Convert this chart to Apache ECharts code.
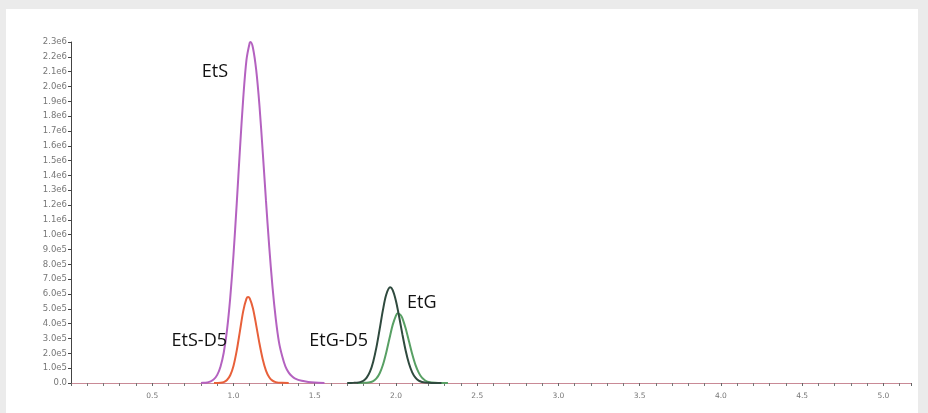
<!DOCTYPE html>
<html>
<head>
<meta charset="utf-8">
<script src="https://cdn.jsdelivr.net/npm/echarts@6/dist/echarts.min.js"></script>
<style>
html,body{margin:0;padding:0;background:#ebebeb;}
#chart{width:928px;height:413px;}
</style>
</head>
<body>
<div id="chart"></div>
<script>
// Retention time (min) and intensity (counts)
const etsX = [0.80,0.82,0.84,0.86,0.88,0.90,0.92,0.94,0.96,0.98,1.00,1.02,1.04,1.06,1.08,1.10,1.105,1.12,1.14,1.16,1.18,1.20,1.22,1.24,1.26,1.28,1.30,1.32,1.34,1.36,1.38,1.42,1.46,1.50,1.56];
const etsY = [0,0.02e5,0.04e5,0.11e5,0.26e5,0.55e5,1.1e5,2.04e5,3.55e5,5.74e5,8.63e5,12.1e5,15.8e5,19.2e5,21.8e5,22.95e5,23.0e5,22.6e5,21.1e5,18.7e5,15.6e5,12.3e5,9.2e5,6.5e5,4.36e5,2.76e5,1.8e5,1.1e5,0.7e5,0.45e5,0.3e5,0.15e5,0.07e5,0.03e5,0];

const etsD5X = [0.88,0.92,0.94,0.96,0.98,1.00,1.02,1.04,1.06,1.08,1.09,1.10,1.12,1.14,1.16,1.18,1.20,1.22,1.24,1.26,1.30,1.34];
const etsD5Y = [0,0.02e5,0.06e5,0.2e5,0.52e5,1.15e5,2.18e5,3.52e5,4.85e5,5.69e5,5.8e5,5.71e5,5.03e5,3.89e5,2.66e5,1.6e5,0.84e5,0.39e5,0.16e5,0.06e5,0.01e5,0];

const etgD5X = [1.70,1.74,1.76,1.78,1.80,1.82,1.84,1.86,1.88,1.90,1.92,1.94,1.964,1.98,2.00,2.02,2.04,2.06,2.08,2.10,2.12,2.14,2.16,2.18,2.22,2.28];
const etgD5Y = [0,0.01e5,0.02e5,0.06e5,0.15e5,0.36e5,0.76e5,1.44e5,2.42e5,3.65e5,4.93e5,5.95e5,6.45e5,6.26e5,5.53e5,4.45e5,3.26e5,2.17e5,1.31e5,0.72e5,0.36e5,0.16e5,0.07e5,0.03e5,0,0];

const etgX = [1.76,1.80,1.82,1.84,1.86,1.88,1.90,1.92,1.94,1.96,1.98,2.00,2.01,2.02,2.03,2.04,2.06,2.08,2.10,2.12,2.14,2.16,2.18,2.20,2.22,2.26,2.32];
const etgY = [0,0.01e5,0.02e5,0.05e5,0.13e5,0.31e5,0.66e5,1.23e5,2.04e5,3.0e5,3.92e5,4.55e5,4.7e5,4.65e5,4.57e5,4.36e5,3.67e5,2.81e5,1.95e5,1.22e5,0.7e5,0.36e5,0.17e5,0.07e5,0.03e5,0,0];

const yTickValues = [0,1e5,2e5,3e5,4e5,5e5,6e5,7e5,8e5,9e5,1.0e6,1.1e6,1.2e6,1.3e6,1.4e6,1.5e6,1.6e6,1.7e6,1.8e6,1.9e6,2.0e6,2.1e6,2.2e6,2.3e6];
const yTickLabels = ["0.0","1.0e5","2.0e5","3.0e5","4.0e5","5.0e5","6.0e5","7.0e5","8.0e5","9.0e5","1.0e6","1.1e6","1.2e6","1.3e6","1.4e6","1.5e6","1.6e6","1.7e6","1.8e6","1.9e6","2.0e6","2.1e6","2.2e6","2.3e6"];
const xTickLabels = ["0.5","1.0","1.5","2.0","2.5","3.0","3.5","4.0","4.5","5.0"];

const seriesNames = ["EtS","EtS-D5","EtG-D5","EtG"];
const seriesColors = ["#b462c0","#e8603a","#2f4a3e","#58a064"];

function pairs(xs, ys){ return xs.map((x,i)=>[x, ys[i]]); }

const chart = echarts.init(document.getElementById('chart'), null, {renderer:'canvas'});
const labelFont = {fontFamily:'Open Sans', fontSize:18, fill:'#111'};

chart.setOption({
  backgroundColor:'#ebebeb',
  animation:false,
  graphic:[
    {type:'rect', z:-10, shape:{x:6, y:9, width:912, height:404}, style:{fill:'#ffffff'}},
    {type:'text', z:50, x:228, y:72, style:Object.assign({text:'EtS', align:'right', verticalAlign:'middle'}, labelFont)},
    {type:'text', z:50, x:227, y:341, style:Object.assign({text:'EtS-D5', align:'right', verticalAlign:'middle'}, labelFont)},
    {type:'text', z:50, x:368, y:341, style:Object.assign({text:'EtG-D5', align:'right', verticalAlign:'middle'}, labelFont)},
    {type:'text', z:50, x:407, y:303, style:Object.assign({text:'EtG', align:'left', verticalAlign:'middle'}, labelFont)}
  ],
  grid:{left:71, right:17, top:42, bottom:30, containLabel:false},
  xAxis:{
    type:'value', min:0, max:5.17, interval:0.5,
    axisLine:{show:true, onZero:false, lineStyle:{color:'#c98a96', width:1}},
    axisTick:{show:true, length:3, lineStyle:{color:'#666'}},
    minorTick:{show:true, splitNumber:5, length:3, lineStyle:{color:'#777'}},
    splitLine:{show:false},
    axisLabel:{
      showMinLabel:false, showMaxLabel:false, color:'#777', fontSize:7.5, fontFamily:'DejaVu Sans', margin:9,
      formatter:function(v){ const i = Math.round(v/0.5)-1; return (i>=0 && i<xTickLabels.length) ? xTickLabels[i] : ''; }
    }
  },
  yAxis:{
    type:'value', min:0, max:2.3e6, interval:1e5,
    axisLine:{show:true, lineStyle:{color:'#444', width:1}},
    axisTick:{show:true, length:3, lineStyle:{color:'#444'}},
    splitLine:{show:false},
    axisLabel:{
      color:'#777', fontSize:8.5, fontFamily:'DejaVu Sans', margin:4,
      formatter:function(v){ const i = yTickValues.findIndex(t=>Math.abs(t-v)<1); return i>=0 ? yTickLabels[i] : ''; }
    }
  },
  series:[
    {name:seriesNames[0], type:'line', data:pairs(etsX, etsY), smooth:0.3, showSymbol:false, z:3, lineStyle:{color:seriesColors[0], width:2}},
    {name:seriesNames[1], type:'line', data:pairs(etsD5X, etsD5Y), smooth:0.3, showSymbol:false, z:4, lineStyle:{color:seriesColors[1], width:2}},
    {name:seriesNames[2], type:'line', data:pairs(etgD5X, etgD5Y), smooth:0.3, showSymbol:false, z:4, lineStyle:{color:seriesColors[2], width:2}},
    {name:seriesNames[3], type:'line', data:pairs(etgX, etgY), smooth:0.3, showSymbol:false, z:3, lineStyle:{color:seriesColors[3], width:2}}
  ]
});
</script>
</body>
</html>
